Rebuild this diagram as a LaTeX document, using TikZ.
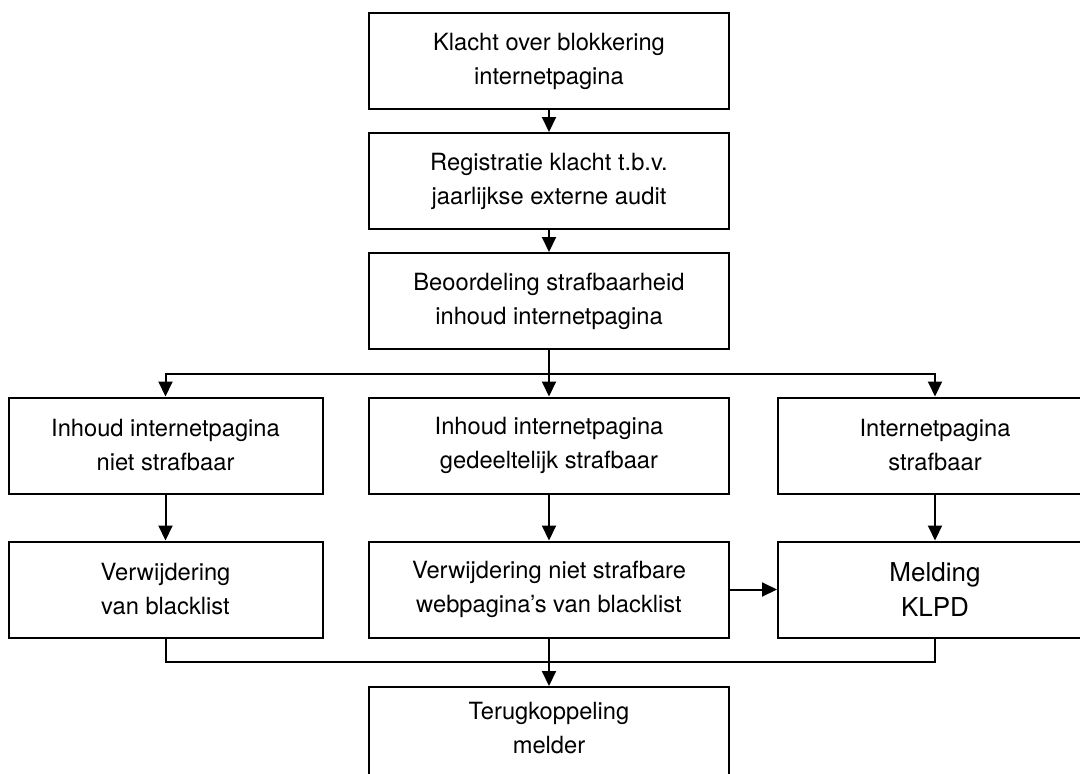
\documentclass[tikz,border=0pt]{standalone}
\usepackage{fontspec}
\setmainfont{TeX Gyre Heros}
\usetikzlibrary{arrows.meta}
\begin{document}
\begin{tikzpicture}[x=1pt,y=-1pt,
  box/.style={draw, line width=2pt, inner sep=0pt, align=center,
    font=\fontsize{23.7}{34}\selectfont, minimum height=96pt},
  wbox/.style={box, minimum width=360pt},
  sbox/.style={box, minimum width=314pt},
  conn/.style={line width=2pt},
  arr/.style={conn, -{Triangle[width=14pt,length=15pt]}},
  txt/.style={inner sep=0pt, align=center, font=\fontsize{23.7}{34}\selectfont}]
\useasboundingbox (0,0) rectangle (1080,774);
\clip (0,0) rectangle (1080,774);
\node[wbox] (b1) at (549,61) {Klacht over blokkering\\internetpagina};
\node[wbox] (b2) at (549,181) {Registratie klacht t.b.v.\\jaarlijkse externe audit};
\node[wbox] (b3) at (549,301) {Beoordeling strafbaarheid\\inhoud internetpagina};
\node[sbox] (l4) at (165.5,445.5) {Inhoud internetpagina\\niet strafbaar};
\node[wbox] (m4) at (549,445.5) {Inhoud internetpagina\\gedeeltelijk strafbaar};
\node[sbox] (r4) at (935,445.5) {Internetpagina\\strafbaar};
\node[sbox] (l5) at (165.5,589.5) {Verwijdering\\van blacklist};
\node[wbox] (m5) at (549,589.5) {Verwijdering niet strafbare\\webpagina’s van blacklist};
\node[sbox, font=\fontsize{26}{35}\selectfont] (r5) at (935,589.5) {Melding\\KLPD};
\node[wbox, anchor=north] (bot) at (549,686) {};
\node[txt] (bottxt) at (549,728) {Terugkoppeling\\melder};
\coordinate (jt) at (549,374);
\coordinate (jb) at (549,662);
\draw[arr] (b1) -- (b2);
\draw[arr] (b2) -- (b3);
\draw[arr] (b3) -- (m4);
\draw[arr] (jt) -| (l4);
\draw[arr] (jt) -| (r4);
\draw[arr] (l4) -- (l5);
\draw[arr] (m4) -- (m5);
\draw[arr] (r4) -- (r5);
\draw[arr] (m5) -- (r5);
\draw[conn] (l5.south) |- (jb) -| (r5.south);
\draw[arr] (m5) -- (bot);
\end{tikzpicture}
\end{document}
